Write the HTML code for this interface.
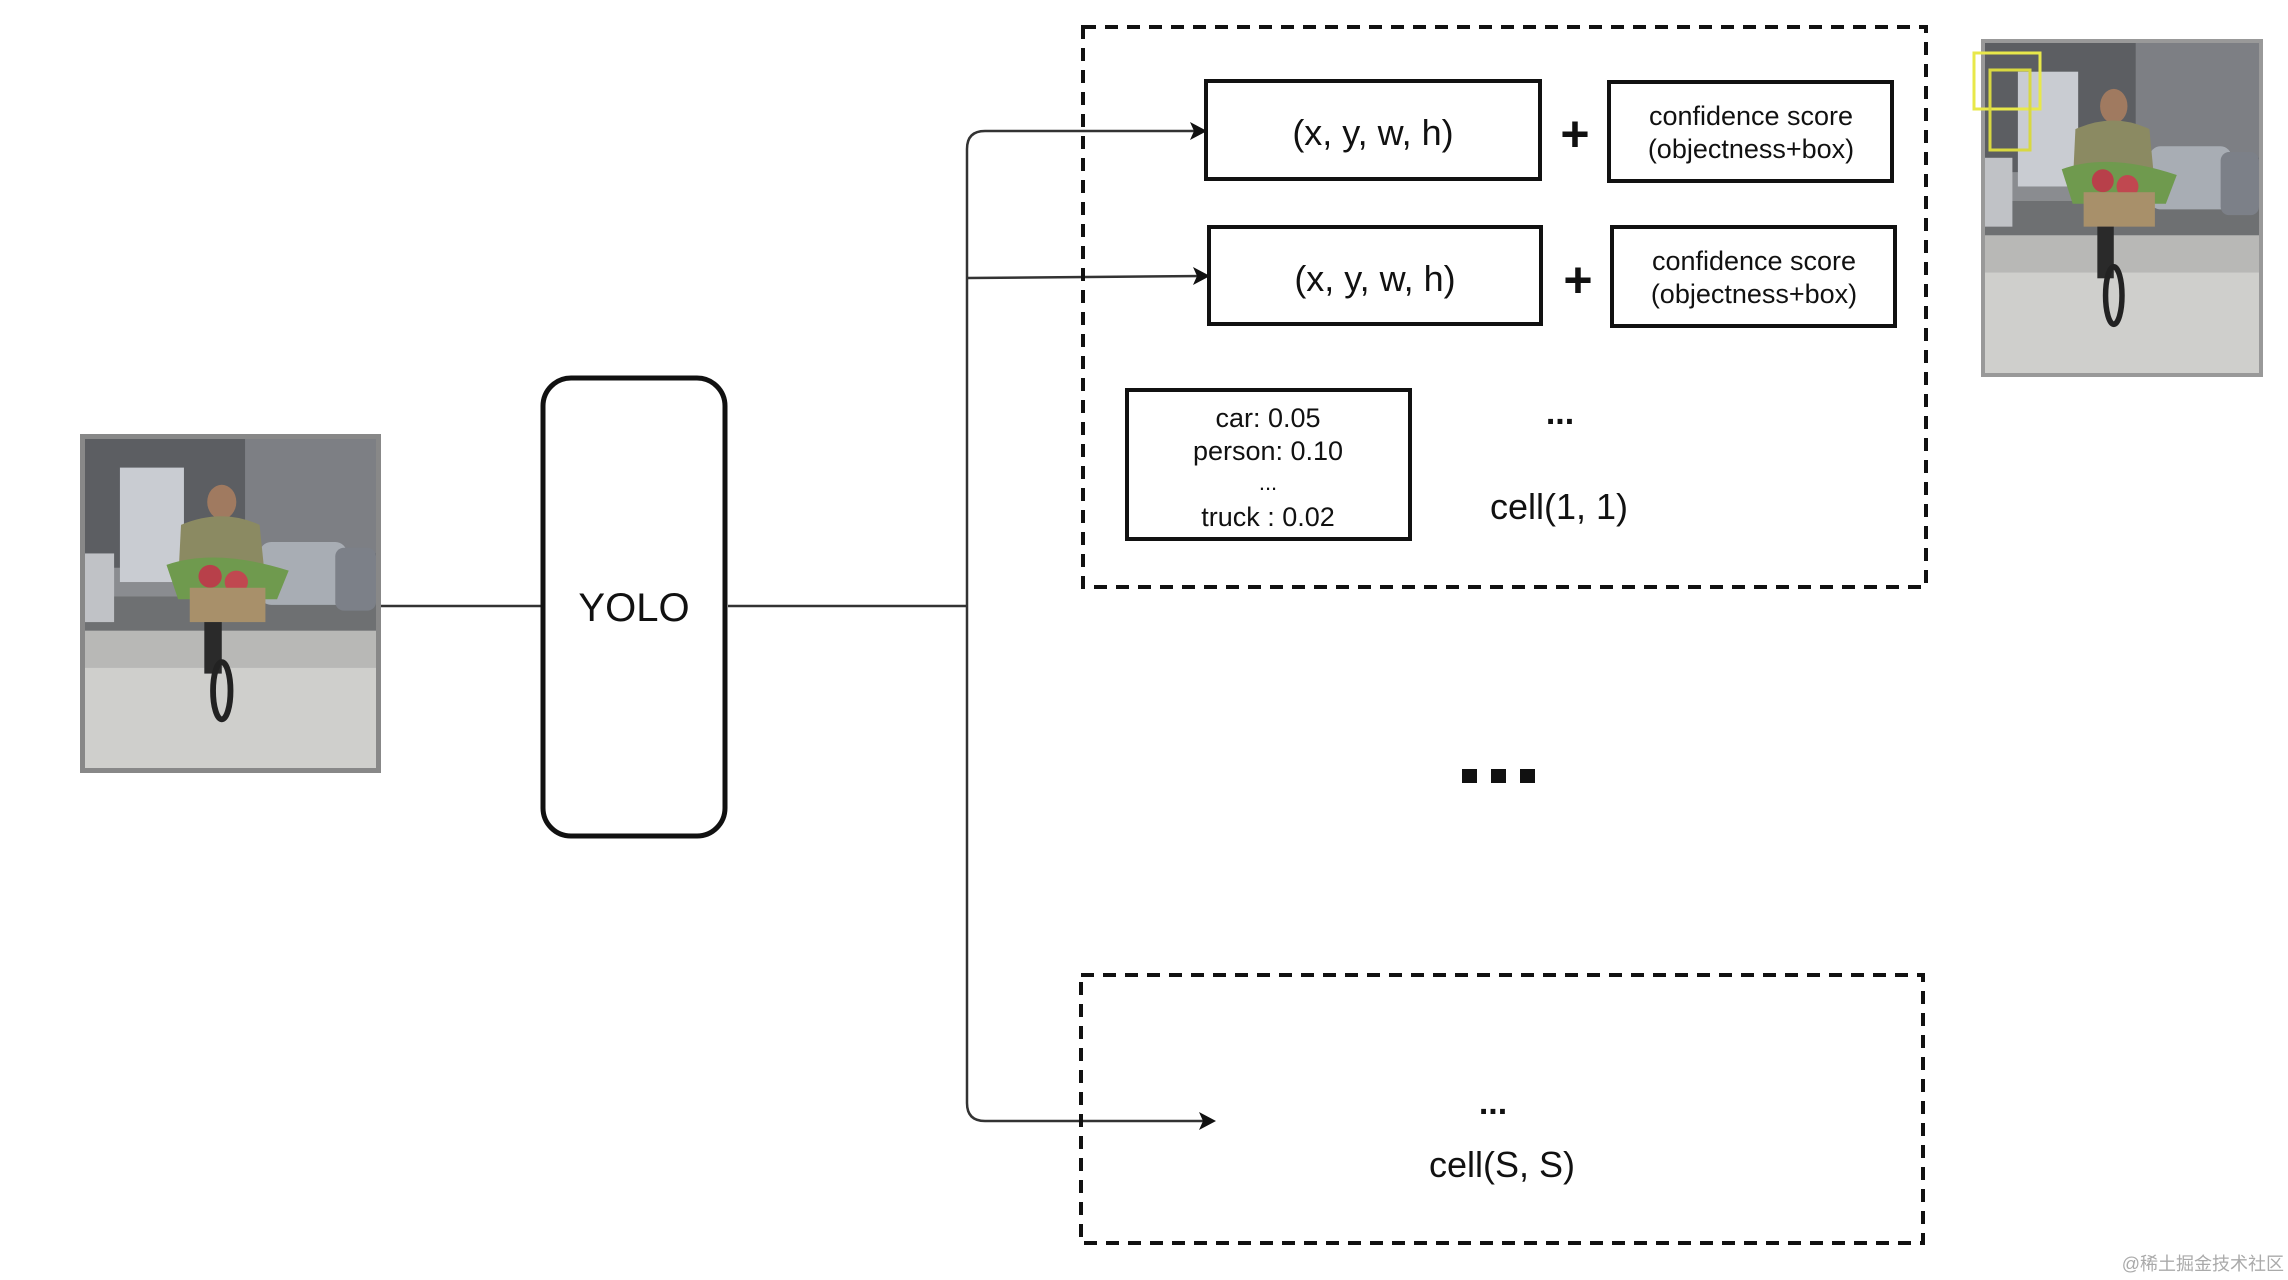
<!DOCTYPE html>
<html><head><meta charset="utf-8"><style>
html,body{margin:0;padding:0;background:#fff;width:2288px;height:1280px;overflow:hidden}
svg text{font-family:"Liberation Sans",sans-serif;fill:#111}
</style></head><body>
<svg width="2288" height="1280" viewBox="0 0 2288 1280" xmlns="http://www.w3.org/2000/svg">
<defs>
<symbol id="photo" viewBox="0 0 100 115" preserveAspectRatio="none">
<rect width="100" height="115" fill="#8a8c90"/>
<rect x="0" y="0" width="100" height="45" fill="#5c5e62"/>
<rect x="55" y="0" width="45" height="40" fill="#7d7f84"/>
<rect x="12" y="10" width="22" height="40" fill="#c9ccd2"/>
<rect x="0" y="55" width="100" height="60" fill="#b8b8b6"/>
<rect x="0" y="55" width="100" height="12" fill="#6e7072"/>
<rect x="0" y="80" width="100" height="35" fill="#cfcfcc"/>
<rect x="60" y="36" width="30" height="22" rx="4" fill="#a8adb4"/>
<rect x="86" y="38" width="14" height="22" rx="3" fill="#7c8088"/>
<rect x="0" y="40" width="10" height="24" fill="#c0c2c6"/>
<ellipse cx="47" cy="22" rx="5" ry="6" fill="#a07a60"/>
<path d="M33 30 Q47 24 60 30 L62 50 L32 50 Z" fill="#8b8a62"/>
<path d="M28 44 Q45 38 70 46 L66 56 L32 56 Z" fill="#6f9a4e"/>
<circle cx="43" cy="48" r="4" fill="#b8404a"/><circle cx="52" cy="50" r="4" fill="#c04850"/>
<rect x="36" y="52" width="26" height="12" fill="#a8906a"/>
<rect x="41" y="64" width="6" height="18" fill="#2a2a2a"/>
<ellipse cx="47" cy="88" rx="3" ry="10" fill="none" stroke="#222" stroke-width="2"/>
</symbol>
</defs>

<!-- left photo -->
<rect x="80" y="434" width="301" height="339" fill="#888"/>
<svg x="85" y="439" width="291" height="329"><use href="#photo" width="291" height="329"/></svg>

<!-- right photo -->
<rect x="1981" y="39" width="282" height="338" fill="#999"/>
<svg x="1985" y="43" width="274" height="330"><use href="#photo" width="274" height="330"/></svg>
<rect x="1974" y="53" width="66" height="56" fill="none" stroke="#e8e84a" stroke-width="3"/>
<rect x="1990" y="70" width="40" height="80" fill="none" stroke="#d8d840" stroke-width="3"/>

<!-- connectors -->
<g stroke="#333" stroke-width="2.5" fill="none">
<line x1="381" y1="606" x2="542" y2="606"/>
<line x1="728" y1="606" x2="967" y2="606"/>
<path d="M1200 131 H985 Q967 131 967 149 V1103 Q967 1121 985 1121 H1208"/>
<line x1="967" y1="278" x2="1203" y2="276"/>
</g>
<g fill="#111">
<path d="M1207 131 L1190 122 L1194 131 L1190 140 Z"/>
<path d="M1210 276 L1193 267 L1197 276 L1193 285 Z"/>
<path d="M1216 1121 L1199 1112 L1203 1121 L1199 1130 Z"/>
</g>

<!-- YOLO -->
<rect x="543" y="378" width="182" height="458" rx="28" fill="none" stroke="#111" stroke-width="5"/>
<text x="634" y="621" font-size="40" text-anchor="middle">YOLO</text>

<!-- dashed boxes -->
<g fill="none" stroke="#111" stroke-width="4" stroke-dasharray="13 9">
<rect x="1083" y="27" width="843" height="560"/>
<rect x="1081" y="975" width="842" height="268"/>
</g>

<!-- row 1 -->
<g fill="none" stroke="#111" stroke-width="4">
<rect x="1206" y="81" width="334" height="98"/>
<rect x="1609" y="82" width="283" height="99"/>
<rect x="1209" y="227" width="332" height="97"/>
<rect x="1612" y="227" width="283" height="99"/>
<rect x="1127" y="390" width="283" height="149"/>
</g>
<text x="1373" y="145" font-size="36" text-anchor="middle">(x, y, w, h)</text>
<text x="1375" y="291" font-size="36" text-anchor="middle">(x, y, w, h)</text>
<text x="1575" y="151" font-size="50" font-weight="bold" text-anchor="middle">+</text>
<text x="1578" y="297" font-size="50" font-weight="bold" text-anchor="middle">+</text>
<g font-size="27" text-anchor="middle">
<text x="1751" y="125">confidence score</text>
<text x="1751" y="158">(objectness+box)</text>
<text x="1754" y="270">confidence score</text>
<text x="1754" y="303">(objectness+box)</text>
<text x="1268" y="427">car: 0.05</text>
<text x="1268" y="460">person: 0.10</text>
<text x="1268" y="490" font-size="22">...</text>
<text x="1268" y="526">truck : 0.02</text>
</g>
<text x="1560" y="424" font-size="34" font-weight="bold" text-anchor="middle">...</text>
<text x="1559" y="519" font-size="36" text-anchor="middle">cell(1, 1)</text>

<!-- big dots -->
<g fill="#111">
<rect x="1462" y="769" width="15" height="14"/>
<rect x="1491" y="769" width="15" height="14"/>
<rect x="1520" y="769" width="15" height="14"/>
</g>

<text x="1493" y="1114" font-size="34" font-weight="bold" text-anchor="middle">...</text>
<text x="1502" y="1177" font-size="36" text-anchor="middle">cell(S, S)</text>

<text x="2284" y="1270" font-size="18" text-anchor="end" style="fill:#aaa;font-family:'Liberation Sans','Noto Sans CJK SC',sans-serif">@稀土掘金技术社区</text>
</svg>
</body></html>
